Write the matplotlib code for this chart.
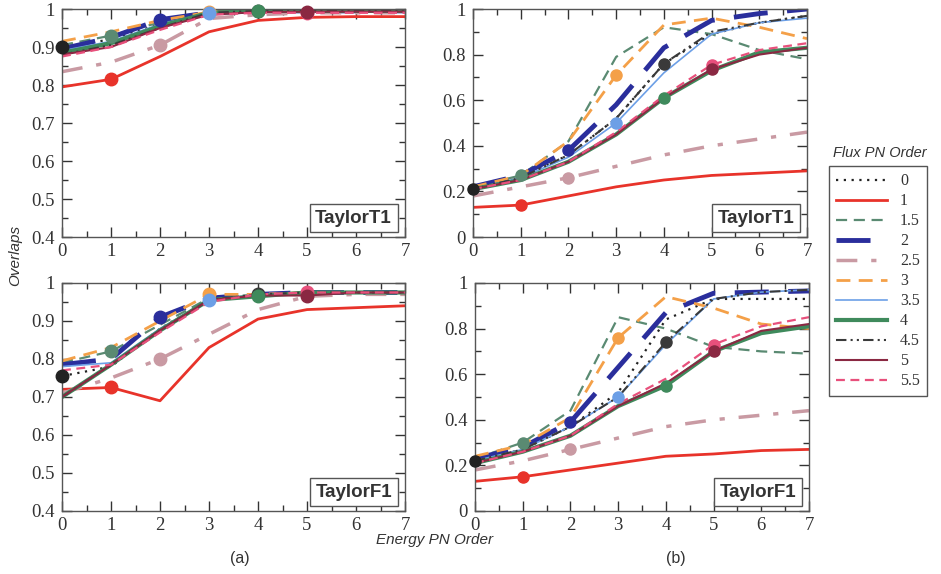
import matplotlib
matplotlib.use('Agg')
import matplotlib.pyplot as plt
from matplotlib.lines import Line2D
from matplotlib.ticker import MultipleLocator, FuncFormatter

energy_orders = [0, 1, 2, 3, 4, 5, 6, 7]
flux_orders = [0, 1, 1.5, 2, 2.5, 3, 3.5, 4, 4.5, 5, 5.5]
flux_labels = ['0', '1', '1.5', '2', '2.5', '3', '3.5', '4', '4.5', '5', '5.5']

# overlaps, one row per flux order (same order as flux_orders)
taylort1_a = [
    [0.900, 0.920, 0.960, 0.990, 0.995, 0.995, 0.995, 0.995],
    [0.795, 0.815, 0.875, 0.940, 0.970, 0.978, 0.980, 0.980],
    [0.905, 0.930, 0.965, 0.990, 0.995, 0.995, 0.995, 0.995],
    [0.895, 0.925, 0.972, 0.990, 0.995, 0.995, 0.995, 0.995],
    [0.835, 0.860, 0.905, 0.975, 0.985, 0.990, 0.990, 0.990],
    [0.915, 0.940, 0.970, 0.992, 0.995, 0.995, 0.995, 0.995],
    [0.890, 0.915, 0.960, 0.990, 0.995, 0.995, 0.995, 0.995],
    [0.885, 0.910, 0.955, 0.990, 0.995, 0.995, 0.995, 0.995],
    [0.880, 0.905, 0.950, 0.990, 0.995, 0.995, 0.995, 0.995],
    [0.880, 0.900, 0.950, 0.985, 0.992, 0.993, 0.993, 0.993],
    [0.875, 0.900, 0.945, 0.985, 0.990, 0.990, 0.990, 0.990],
]
taylorf1_a = [
    [0.755, 0.780, 0.880, 0.955, 0.970, 0.975, 0.975, 0.975],
    [0.720, 0.725, 0.690, 0.830, 0.905, 0.930, 0.935, 0.940],
    [0.790, 0.820, 0.890, 0.960, 0.970, 0.975, 0.975, 0.975],
    [0.785, 0.800, 0.910, 0.960, 0.970, 0.975, 0.975, 0.975],
    [0.710, 0.750, 0.800, 0.865, 0.930, 0.965, 0.970, 0.970],
    [0.795, 0.830, 0.900, 0.970, 0.970, 0.975, 0.975, 0.975],
    [0.780, 0.790, 0.880, 0.955, 0.970, 0.975, 0.975, 0.975],
    [0.700, 0.785, 0.875, 0.955, 0.965, 0.975, 0.975, 0.975],
    [0.700, 0.785, 0.875, 0.955, 0.970, 0.975, 0.975, 0.975],
    [0.700, 0.785, 0.875, 0.955, 0.967, 0.967, 0.975, 0.975],
    [0.770, 0.785, 0.870, 0.950, 0.970, 0.975, 0.975, 0.975],
]
taylort1_b = [
    [0.21, 0.26, 0.36, 0.52, 0.76, 0.89, 0.94, 0.97],
    [0.13, 0.14, 0.18, 0.22, 0.25, 0.27, 0.28, 0.29],
    [0.22, 0.27, 0.42, 0.79, 0.92, 0.89, 0.82, 0.78],
    [0.22, 0.27, 0.38, 0.58, 0.83, 0.95, 0.98, 1.00],
    [0.18, 0.22, 0.26, 0.31, 0.36, 0.40, 0.43, 0.46],
    [0.22, 0.27, 0.42, 0.71, 0.93, 0.96, 0.92, 0.87],
    [0.21, 0.26, 0.35, 0.50, 0.72, 0.89, 0.94, 0.96],
    [0.21, 0.25, 0.33, 0.45, 0.61, 0.73, 0.81, 0.83],
    [0.21, 0.26, 0.36, 0.52, 0.76, 0.90, 0.94, 0.97],
    [0.21, 0.25, 0.33, 0.45, 0.61, 0.735, 0.80, 0.83],
    [0.21, 0.25, 0.33, 0.46, 0.62, 0.755, 0.82, 0.85],
]
taylorf1_b = [
    [0.22, 0.27, 0.37, 0.52, 0.84, 0.93, 0.93, 0.93],
    [0.13, 0.15, 0.18, 0.21, 0.24, 0.25, 0.265, 0.27],
    [0.23, 0.30, 0.44, 0.85, 0.80, 0.72, 0.70, 0.69],
    [0.23, 0.28, 0.39, 0.63, 0.87, 0.955, 0.96, 0.965],
    [0.18, 0.22, 0.27, 0.32, 0.37, 0.40, 0.42, 0.44],
    [0.24, 0.29, 0.41, 0.76, 0.94, 0.89, 0.82, 0.80],
    [0.22, 0.27, 0.37, 0.50, 0.73, 0.93, 0.96, 0.97],
    [0.21, 0.26, 0.33, 0.46, 0.55, 0.70, 0.78, 0.81],
    [0.22, 0.27, 0.37, 0.50, 0.74, 0.93, 0.96, 0.97],
    [0.21, 0.26, 0.33, 0.46, 0.56, 0.70, 0.79, 0.82],
    [0.21, 0.26, 0.33, 0.47, 0.58, 0.73, 0.81, 0.85],
]

colors = ['#222222', '#e8332a', '#5a8a72', '#2a2e9c', '#c99aa3', '#f4a048',
          '#6c9fe6', '#3f8a5c', '#3a3a3a', '#8a2842', '#e8507c']
styles = [(0, (1, 2.5)), '-', (0, (5, 3)), (0, (7, 4)), (0, (6, 4, 1.5, 4)),
          (0, (5, 3)), '-', '-', (0, (5, 2, 1, 2, 1, 2)), '-', (0, (4, 2.5))]
widths = [1.6, 2.0, 1.6, 3.5, 2.5, 2.0, 1.2, 3.0, 1.5, 1.5, 1.6]
# order in which markers are drawn (later ones sit on top)
marker_order = [0, 1, 2, 3, 4, 5, 6, 8, 7, 10, 9]

serif = 'Liberation Serif'
sans = 'Liberation Sans'
plt.rcParams['font.family'] = serif

fig = plt.figure(figsize=(9.41, 5.74), dpi=100)

panels = [
    ([0.0659, 0.5871, 0.3645, 0.3972], taylort1_a, 'TaylorT1', 'a'),
    ([0.5027, 0.5871, 0.3549, 0.3972], taylort1_b, 'TaylorT1', 'b'),
    ([0.0659, 0.1098, 0.3645, 0.3972], taylorf1_a, 'TaylorF1', 'a'),
    ([0.5048, 0.1098, 0.3549, 0.3972], taylorf1_b, 'TaylorF1', 'b'),
]

fmt = FuncFormatter(lambda v, p: ('%g' % round(v, 2)))

for rect, data, name, kind in panels:
    ax = fig.add_axes(rect)
    for i, order in enumerate(flux_orders):
        ax.plot(energy_orders, data[i], color=colors[i], linestyle=styles[i],
                lw=widths[i], zorder=2)
    # one marker per flux order at the matching energy order
    for i in marker_order:
        k = int(flux_orders[i])
        ax.plot(energy_orders[k], data[i][k], 'o', color=colors[i],
                ms=9 if kind == 'a' else 8, zorder=3, clip_on=False)
    ax.set_xlim(0, 7)
    if kind == 'a':
        ax.set_ylim(0.4, 1.0)
        ax.yaxis.set_major_locator(MultipleLocator(0.1))
        ax.yaxis.set_minor_locator(MultipleLocator(0.05))
    else:
        ax.set_ylim(0, 1.0)
        ax.yaxis.set_major_locator(MultipleLocator(0.2))
        ax.yaxis.set_minor_locator(MultipleLocator(0.1))
    ax.xaxis.set_major_locator(MultipleLocator(1))
    ax.xaxis.set_minor_locator(MultipleLocator(0.5))
    ax.yaxis.set_major_formatter(fmt)
    ax.tick_params(which='both', direction='in', top=True, right=True,
                   labelsize=13.5, colors='#333333')
    ax.tick_params(axis='y', pad=5)
    ax.tick_params(axis='x', pad=4)
    ax.tick_params(which='major', length=7, width=1)
    ax.tick_params(which='minor', length=4, width=1)
    for s in ax.spines.values():
        s.set_color('#555555')
        s.set_linewidth(1.0)
    ax.text(0.962, 0.045, name, transform=ax.transAxes, ha='right', va='bottom',
            fontsize=13.5, fontweight='bold', family=sans, color='#333333',
            bbox=dict(boxstyle='square,pad=0.3', fc='white', ec='#555555', lw=1),
            zorder=5)

handles = [Line2D([], [], color=colors[i], linestyle=styles[i], lw=widths[i])
           for i in range(len(flux_orders))]
leg = fig.legend(handles, flux_labels, loc='upper left',
                 bbox_to_anchor=(829 / 941, 1 - 166 / 574), fontsize=11.5,
                 handlelength=3.2, labelspacing=0.25, borderpad=0.45,
                 handletextpad=0.8, borderaxespad=0, fancybox=False,
                 edgecolor='#555555', framealpha=1)
leg.get_frame().set_linewidth(1.0)
for t in leg.get_texts():
    t.set_color('#333333')

fig.text(880 / 941, 1 - 153 / 574, 'Flux PN Order', ha='center', va='center',
         fontsize=10.5, style='italic', family=sans, color='#333333')
fig.text(15 / 941, 1 - 255 / 574, 'Overlaps', ha='center', va='center',
         rotation=90, fontsize=11, style='italic', family=sans, color='#333333')
fig.text(435 / 941, 1 - 540 / 574, 'Energy PN Order', ha='center', va='center',
         fontsize=11, style='italic', family=sans, color='#333333')
fig.text(240 / 941, 1 - 558 / 574, '(a)', ha='center', va='center',
         fontsize=11.5, family=sans, color='#333333')
fig.text(676 / 941, 1 - 558 / 574, '(b)', ha='center', va='center',
         fontsize=11.5, family=sans, color='#333333')

fig.savefig('out.png', dpi=100)
plt.close(fig)
